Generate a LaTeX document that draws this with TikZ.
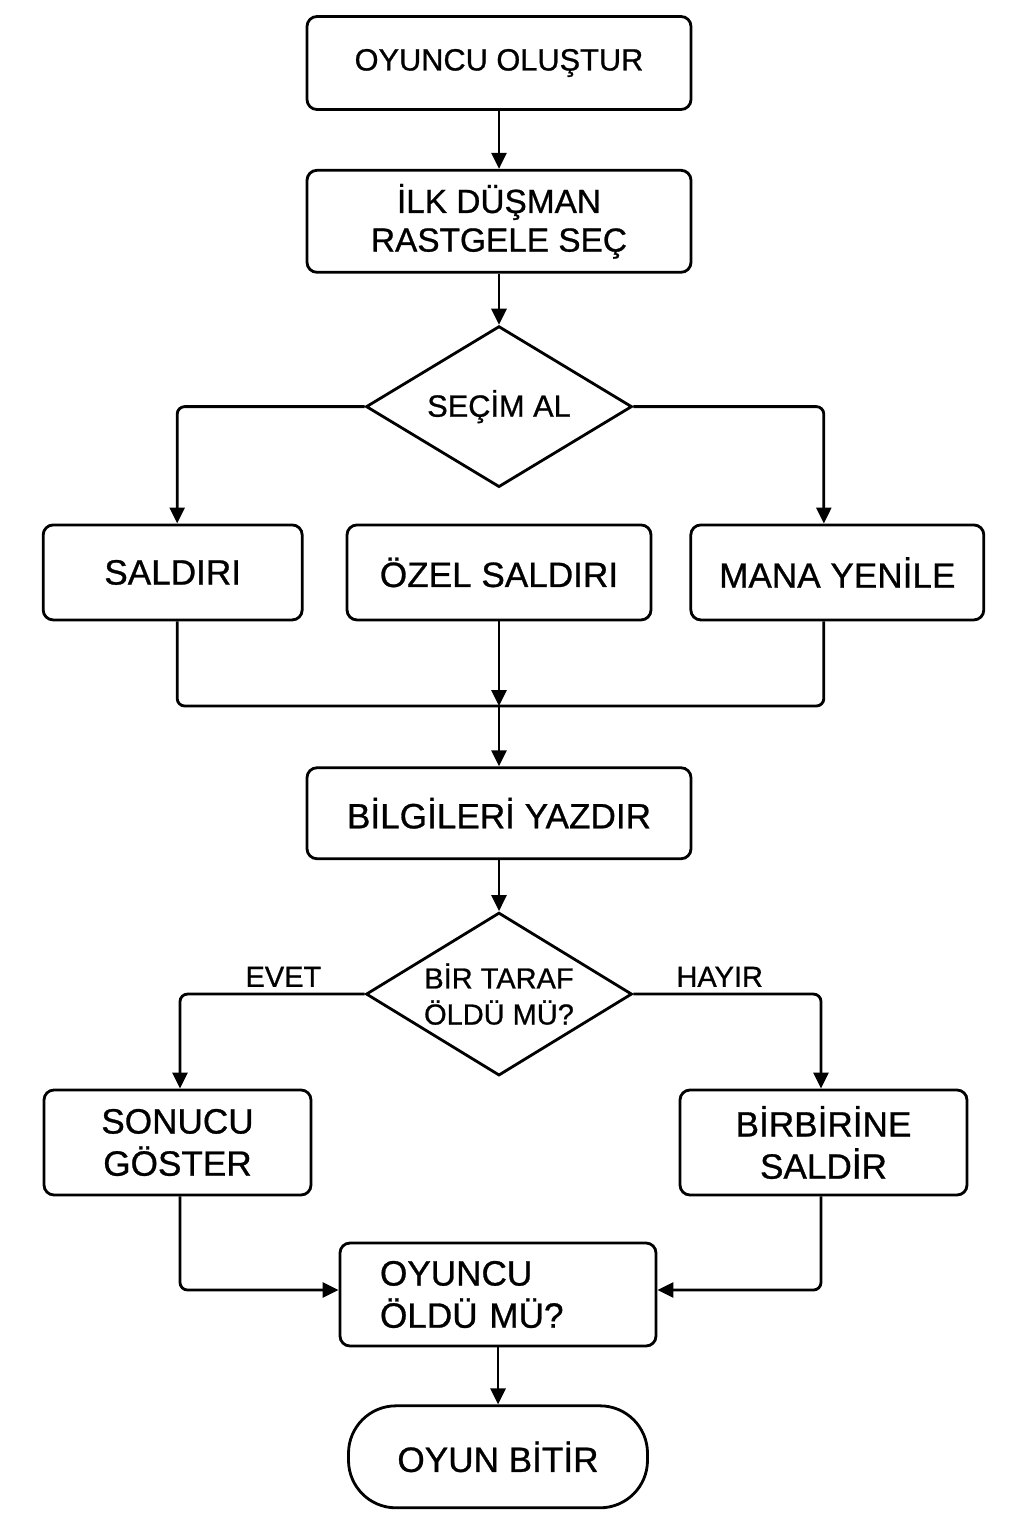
\documentclass[tikz,border=0pt]{standalone}
\usepackage{fontspec}
\setmainfont{Liberation Sans}[FakeBold=0.8]
\usetikzlibrary{positioning,shapes.geometric,arrows.meta}

\begin{document}
\begin{tikzpicture}[auto,node distance=1.2cm,line width=1.6pt,>={Triangle[length=0.32cm,width=0.3cm]}]
	\tikzstyle{box}=[rectangle,draw,rounded corners=0.2cm,inner sep=0pt,align=center,font=\fontsize{20pt}{24pt}\selectfont]
	\tikzstyle{karar}=[diamond,draw,aspect=1.63,inner sep=0pt,align=center,minimum width=5.32cm,minimum height=3.22cm]
	\tikzstyle{ok}=[->,rounded corners=0.15cm]
	\tikzstyle{etiket}=[font=\fontsize{16.5pt}{20pt}\selectfont]
	\useasboundingbox (0,0) rectangle (20.48,-30.72);
		\node[box, minimum width=7.68cm, minimum height=1.86cm, font=\fontsize{17.5pt}{21pt}\selectfont] (olustur) at (9.98,-1.26) {OYUNCU OLUŞTUR};
		\node[box, minimum width=7.68cm, minimum height=2.04cm, font=\fontsize{19pt}{22pt}\selectfont] (dusman) [below=1.16cm of olustur] {İLK DÜŞMAN\\RASTGELE SEÇ};
		\node[karar, font=\fontsize{17.5pt}{21pt}\selectfont] (secim) [below=1.02cm of dusman] {SEÇİM AL};
		\node[box, minimum width=6.08cm, minimum height=1.9cm] (ozel) [below=0.7cm of secim] {ÖZEL SALDIRI};
		\node[box, minimum width=5.18cm, minimum height=1.9cm] (saldiri) [left=0.84cm of ozel] {SALDIRI};
		\node[box, minimum width=5.86cm, minimum height=1.9cm] (mana) [right=0.74cm of ozel] {MANA YENİLE};
		\coordinate (birles) at (9.98,-14.12);
		\node[box, minimum width=7.68cm, minimum height=1.82cm] (yazdir) [below=2.9cm of ozel] {BİLGİLERİ YAZDIR};
		\node[karar, minimum height=3.26cm, font=\fontsize{16.5pt}{20.5pt}\selectfont] (taraf) [below=1.02cm of yazdir] {BİR TARAF\\ÖLDÜ MÜ?};
		\node[box, minimum width=5.34cm, minimum height=2.1cm] (sonuc) at (3.55,-22.85) {SONUCU\\GÖSTER};
		\node[box, minimum width=5.74cm, minimum height=2.1cm] (birbirine) at (16.47,-22.85) {BİRBİRİNE\\SALDİR};
		\node[box, minimum width=6.32cm, minimum height=2.06cm, text width=4.72cm, inner xsep=0.8cm, align=left] (oldu) at (9.96,-25.89) {OYUNCU\\ÖLDÜ MÜ?};
		\node[box, rounded corners=0.95cm, minimum width=5.98cm, minimum height=2.04cm] (bitir) [below=1.14cm of oldu] {OYUN BİTİR};
			\draw[->] (olustur) -- (dusman);
			\draw[->] (dusman) -- (secim);
			\draw[ok] (secim.west) -| ([xshift=0.09cm]saldiri.north);
			\draw[ok] (secim.east) -| ([xshift=-0.27cm]mana.north);
			\draw[rounded corners=0.15cm] ([xshift=0.09cm]saldiri.south) |- (birles) -| ([xshift=-0.27cm]mana.south);
			\draw[->] (ozel) -- (birles);
			\draw[->] (birles) -- (yazdir);
			\draw[->] (yazdir) -- (taraf);
			\draw[ok] (taraf.west) -| node[etiket, above, pos=0.22] {EVET} ([xshift=0.05cm]sonuc.north);
			\draw[ok] (taraf.east) -| node[etiket, above, pos=0.23] {HAYIR} ([xshift=-0.05cm]birbirine.north);
			\draw[ok] ([xshift=0.05cm]sonuc.south) |- ([yshift=0.09cm]oldu.west);
			\draw[ok] ([xshift=-0.05cm]birbirine.south) |- ([yshift=0.09cm]oldu.east);
			\draw[->] (oldu) -- (bitir);
\end{tikzpicture}
\end{document}
